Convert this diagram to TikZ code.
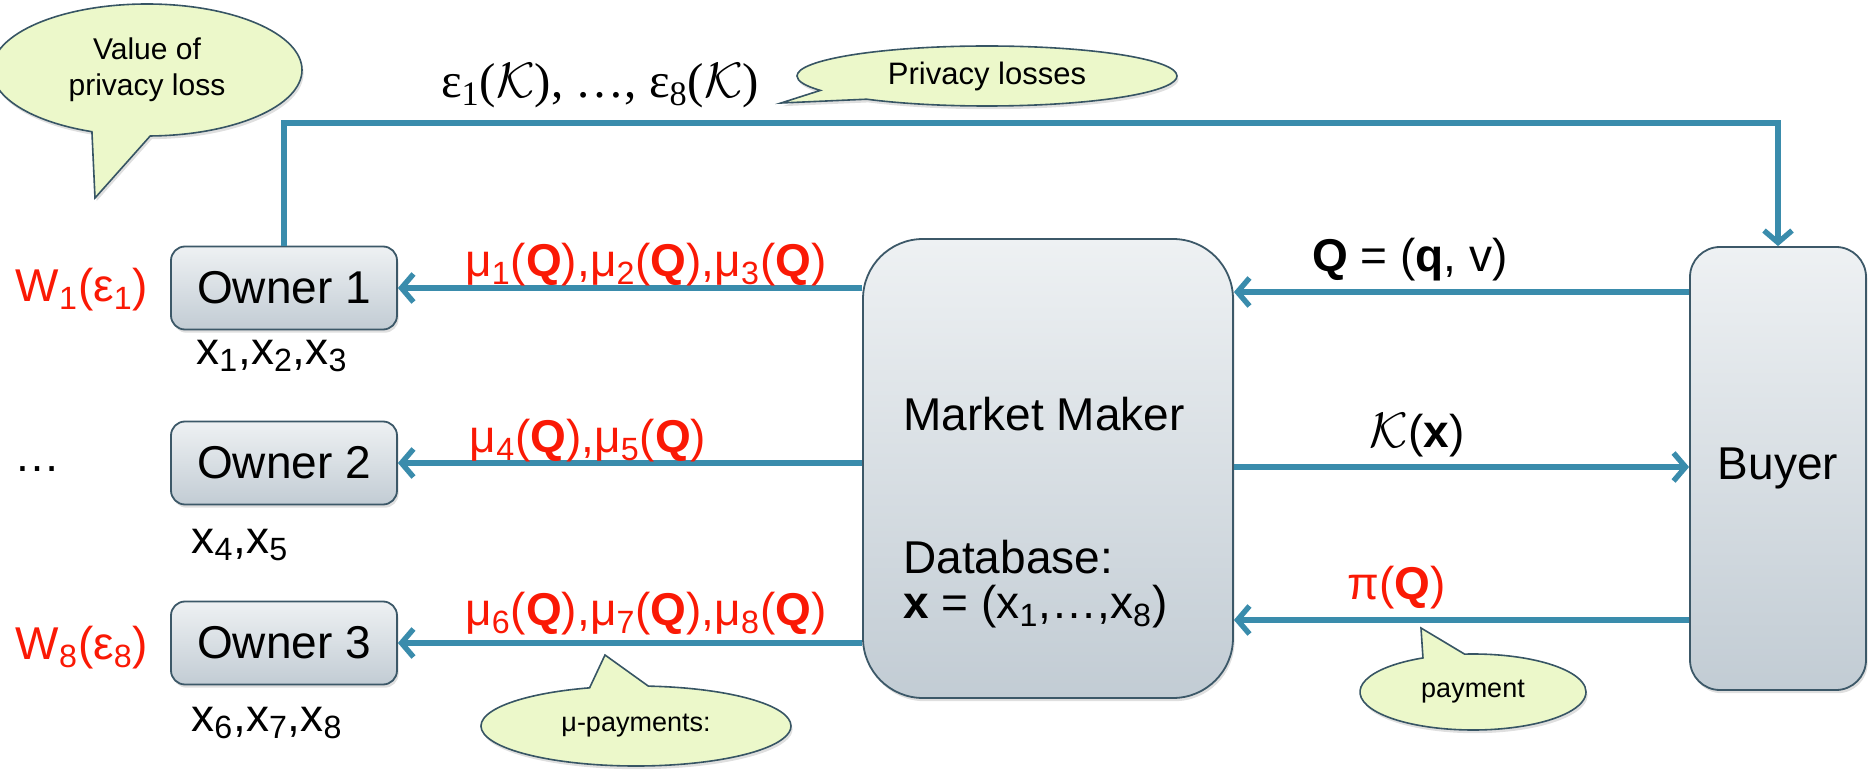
\documentclass[tikz,border=0pt]{standalone}
\usepackage{fontspec}
\setmainfont{Liberation Sans}
\newfontfamily\seriffont{Liberation Serif}
\usetikzlibrary{arrows.meta,shapes.callouts,shadows,calc}
\definecolor{arrowblue}{RGB}{58,140,172}
\definecolor{boxedge}{RGB}{60,88,104}
\definecolor{boxtop}{RGB}{238,241,243}
\definecolor{boxbot}{RGB}{194,204,212}
\definecolor{bubblefill}{RGB}{236,248,202}
\definecolor{bubbleedge}{RGB}{55,85,100}
\definecolor{lblred}{RGB}{250,25,5}
\newcommand\sbs[1]{\textsubscript{#1}}
\tikzset{
  bigfont/.style={font=\fontsize{23}{27}\selectfont},
  softshadow/.style={drop shadow={opacity=0.25,shadow xshift=0.8pt,shadow yshift=-1.6pt}},
  boxbase/.style={draw=boxedge, line width=0.9pt, top color=boxtop, bottom color=boxbot, softshadow, bigfont, inner sep=0pt},
  ownerbox/.style={boxbase, rounded corners=7pt, minimum width=113pt, minimum height=41.5pt},
  txt/.style={bigfont, inner sep=1pt},
  redlbl/.style={txt, text=lblred},
  arr/.style={draw=arrowblue, line width=2.7pt, -{Straight Barb[length=6pt,width=14pt]}},
  bubble/.style={ellipse callout, draw=bubbleedge, line width=0.8pt, fill=bubblefill,
    font=\fontsize{13.5}{16}\selectfont, align=center, inner sep=1pt,
    callout pointer arc=22, softshadow},
}
\begin{document}
\begin{tikzpicture}[x=0.5pt,y=-0.5pt]
\useasboundingbox (0,0) rectangle (1870,770);

% boxes
\node[ownerbox] (o1) at (284,288) {Owner 1};
\node[ownerbox] (o2) at (284,463) {Owner 2};
\node[ownerbox] (o3) at (284,643) {Owner 3};
\node[boxbase, rounded corners=30pt, minimum width=185pt, minimum height=229.5pt] (mm) at (1048,468.5) {};
\node[boxbase, rounded corners=15pt, minimum width=88pt, minimum height=221.5pt] (buyer) at (1778,468.5) {Buyer};

% market maker text
\node[txt, anchor=west] (mmt) at (901,414) {Market Maker};
\node[txt, anchor=west] (dbt) at (901,557) {Database:};
\node[txt, anchor=west] (xt) at (901,607) {\textbf{x} = (x\sbs{1},…,x\sbs{8})};

% connectors
\coordinate (qy) at (0,292);
\coordinate (ky) at (0,467);
\coordinate (py) at (0,620);
\coordinate (topy) at (0,123);
\draw[arr] (mm.west |- o1.east) -- (o1.east);
\draw[arr] (mm.west |- o2.east) -- (o2.east);
\draw[arr] (mm.west |- o3.east) -- (o3.east);
\draw[arr] (buyer.west |- qy) -- (mm.east |- qy);
\draw[arr] (mm.east |- ky) -- (buyer.west |- ky);
\draw[arr] (buyer.west |- py) -- (mm.east |- py);
\draw[arr] (o1.north) -- (o1.north |- topy) -| (buyer.north);

% labels
\node[txt, font=\fontsize{24.5}{28}\selectfont] (eps) at (600,86) {\seriffont ε\sbs{1}($\mathcal{K}$), …, ε\sbs{8}($\mathcal{K}$)};
\node[redlbl] (mu1) at (646,265) {μ\sbs{1}(\textbf{Q}),μ\sbs{2}(\textbf{Q}),μ\sbs{3}(\textbf{Q})};
\node[redlbl] (mu2) at (588,441) {μ\sbs{4}(\textbf{Q}),μ\sbs{5}(\textbf{Q})};
\node[redlbl] (mu3) at (646,614) {μ\sbs{6}(\textbf{Q}),μ\sbs{7}(\textbf{Q}),μ\sbs{8}(\textbf{Q})};
\node[redlbl] (w1) at (82,290) {W\sbs{1}(ε\sbs{1})};
\node[txt] (dots) at (38,469) {…};
\node[redlbl] (w8) at (82,648) {W\sbs{8}(ε\sbs{8})};
\node[txt] (x123) at (272,356) {x\sbs{1},x\sbs{2},x\sbs{3}};
\node[txt] (x45) at (240,545) {x\sbs{4},x\sbs{5}};
\node[txt] (x678) at (267,723) {x\sbs{6},x\sbs{7},x\sbs{8}};
\node[txt] (qlbl) at (1410,260) {\textbf{Q} = (\textbf{q}, v)};
\node[txt] (klbl) at (1417,435) {$\mathcal{K}$(\textbf{x})};
\node[redlbl] (plbl) at (1397,588) {π(\textbf{Q})};

% callouts
\node[bubble, font=\fontsize{15}{18}\selectfont, minimum width=155pt, minimum height=66pt, callout absolute pointer={(95,198)}] (bval) at (147,70) {Value of\\privacy loss};
\node[bubble, font=\fontsize{15.5}{18}\selectfont, minimum width=190pt, minimum height=30pt, callout absolute pointer={(781,103)}] (bpriv) at (987,76) {Privacy losses};
\node[bubble, minimum width=113pt, minimum height=38pt, callout absolute pointer={(1421,628)}] (bpay) at (1473,692) {payment};
\node[bubble, minimum width=155pt, minimum height=40pt, callout absolute pointer={(605,655)}] (bmu) at (636,726) {μ-payments:};
\end{tikzpicture}
\end{document}
